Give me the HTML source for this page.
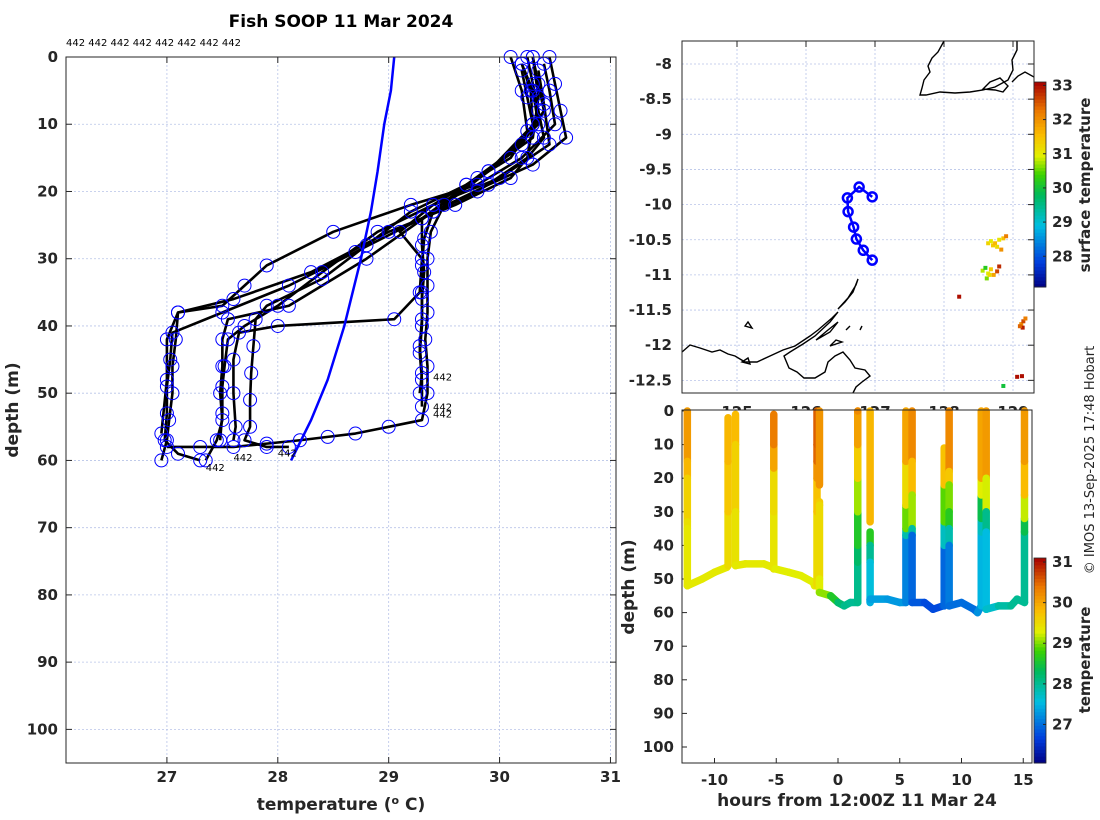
<!DOCTYPE html>
<html><head><meta charset="utf-8"><style>
html,body{margin:0;padding:0;background:#fff;}
svg{display:block;font-family:"DejaVu Sans","Liberation Sans",sans-serif;}
.tk{font-size:15px;font-weight:bold;fill:#262626;}
.lab{font-size:17px;font-weight:bold;fill:#262626;}
</style></head><body>
<svg id="fig" width="1100" height="820" viewBox="0 0 1100 820" xmlns="http://www.w3.org/2000/svg">
<defs><clipPath id="mapclip"><rect x="682" y="41" width="352" height="352"/></clipPath></defs>
<text x="341" y="27" text-anchor="middle" style="font-size:17px;font-weight:bold;fill:#000">Fish SOOP 11 Mar 2024</text>
<text x="66" y="46" style="font-size:10px;fill:#000">442 442 442 442 442 442 442 442</text>
<g id="left"></g>
<g id="map"></g>
<g id="sect"></g>
<text transform="translate(1094,460) rotate(-90)" text-anchor="middle" style="font-size:13px;fill:#262626">© IMOS 13-Sep-2025 17:48 Hobart</text>
</svg>
<script>
const NS="http://www.w3.org/2000/svg";
function mk(parent,tag,attrs,txt){const e=document.createElementNS(NS,tag);for(const k in attrs)e.setAttribute(k,attrs[k]);if(txt!==undefined)e.textContent=txt;parent.appendChild(e);return e;}

// ---------- Left: profiles ----------
const profTickX=[27,28,29,30,31];
const profTickY=[0,10,20,30,40,50,60,70,80,90,100];
const profTemps=[
[30.25,30.3,30.35,30.4,30.1,29.6,29.0,28.3,27.6,27.1,27.08,27.05,27.05,27.02,27.0,26.95],
[30.2,30.28,30.3,30.25,29.8,29.3,28.7,28.1,27.5,27.05,27.03,27.0,27.0,26.98,27.1,27.3],
[30.45,30.5,30.55,30.6,30.3,29.9,29.4,28.8,28.1,27.55,27.5,27.5,27.48,27.5,27.45,27.35],
[30.2,30.25,30.3,30.1,29.7,29.2,28.8,28.4,27.9,27.8,27.78,27.76,27.75,27.75,27.7,27.9,28.1],
[30.3,30.35,30.4,30.2,29.7,29.4,29.32,29.3,29.3,29.3,29.28,29.3,29.28],
[30.2,30.3,30.35,29.9,29.5,29.38,29.35,29.35,29.35,29.33,29.35,29.35,29.3,29.0,28.7,28.45,28.2,27.9,27.6,27.3,27.0],
[30.35,30.4,30.45,30.0,29.4,28.9,28.4,28.0,27.7,27.55,27.52,27.5,27.5,27.48],
[30.1,30.2,30.25,29.9,29.4,29.1,29.3,29.28,29.05,28.0,27.65,27.6,27.6,27.62,27.6],
[30.3,30.35,30.3,29.8,29.3,29.3,29.32,29.3,29.3,29.28,29.3,29.3],
[30.4,30.45,30.5,30.2,29.8,29.2,28.5,27.9,27.7,27.5,27.1,27.0,27.0,26.95]
];
const profDepths=[
[0,4,8,12,18,22,26,32,36,38,42,46,50,54,57,60],
[1,5,10,15,20,24,29,34,38,41,45,49,53,57,59,60],
[0,4,8,12,16,19,23,30,37,39,42,46,50,54,57,60],
[2,6,10,15,19,23,28,33,37,39,43,47,51,55,57,58,58],
[0,4,8,13,19,23,27,31,35,39,43,47,50],
[1,5,10,17,22,26,30,34,38,42,46,50,54,55,56,56.5,57,57.5,58,58,58],
[2,7,13,18,22,26,32,37,40,42,46,49,53,57],
[0,5,11,17,22,26,30,35,39,40,41,45,50,55,57],
[0,6,12,18,24,28,32,36,40,44,48,52],
[1,5,10,15,19,22,26,31,34,37,38,42,48,56]
];
const meanTemps=[29.05,29.02,28.96,28.9,28.84,28.75,28.6,28.45,28.3,28.12];
const meanDepths=[0,5,10,17,23,30,40,48,54,60];
const idLabelT=[29.4,29.4,29.4,27.35,27.6,28.0];
const idLabelD=[47.5,52,53,61,59.5,58.8];

(function(){
 const g=document.getElementById('left');
 const X0=66,X1=616,Y0=57,Y1=763,tmin=26.09,tmax=31.05,dmin=0,dmax=105;
 const sx=t=>X0+(t-tmin)/(tmax-tmin)*(X1-X0);
 const sy=d=>Y0+(d-dmin)/(dmax-dmin)*(Y1-Y0);
 profTickX.forEach(t=>{const l=mk(g,'line',{x1:sx(t),x2:sx(t),y1:Y0,y2:Y1,stroke:'#b8c4e8','stroke-width':0.8,'stroke-dasharray':'2,2'});
  
  const tx=mk(g,'text',{x:sx(t),y:Y1+19,'text-anchor':'middle',class:'tk'},String(t));
  
  mk(g,'line',{x1:sx(t),x2:sx(t),y1:Y0,y2:Y0+6,stroke:'#262626'});mk(g,'line',{x1:sx(t),x2:sx(t),y1:Y1,y2:Y1-6,stroke:'#262626'});});
 profTickY.forEach(d=>{const l=mk(g,'line',{x1:X0,x2:X1,y1:sy(d),y2:sy(d),stroke:'#b8c4e8','stroke-width':0.8,'stroke-dasharray':'2,2'});
  
  const tx=mk(g,'text',{x:X0-8,y:sy(d)+5,'text-anchor':'end',class:'tk'},String(d));
  
  mk(g,'line',{x1:X0,x2:X0+6,y1:sy(d),y2:sy(d),stroke:'#262626'});mk(g,'line',{x1:X1,x2:X1-6,y1:sy(d),y2:sy(d),stroke:'#262626'});});
 profTemps.forEach((ts,i)=>{const pts=ts.map((t,j)=>sx(t)+','+sy(profDepths[i][j])).join(' ');
  const p=mk(g,'polyline',{points:pts,fill:'none',stroke:'#000','stroke-width':2.6,'stroke-linejoin':'round'});
  });
 profTemps.forEach((ts,i)=>{ts.forEach((t,j)=>{const c=mk(g,'circle',{cx:sx(t),cy:sy(profDepths[i][j]),r:6.5,fill:'none',stroke:'#0000ff','stroke-width':1});
  });});
 const m=mk(g,'polyline',{points:meanTemps.map((t,j)=>sx(t)+','+sy(meanDepths[j])).join(' '),fill:'none',stroke:'#0000ff','stroke-width':2.5});
 
 idLabelT.forEach((t,j)=>{const tx=mk(g,'text',{x:sx(t),y:sy(idLabelD[j])+4,style:'font-size:10px;fill:#000'},'442');
  });
 const b=mk(g,'rect',{x:X0,y:Y0,width:X1-X0,height:Y1-Y0,fill:'none',stroke:'#262626','stroke-width':1});
 
 const xl=mk(g,'text',{x:341,y:810,'text-anchor':'middle',class:'lab'});
 xl.innerHTML='temperature (<tspan dy="-6" style="font-size:11px">o</tspan><tspan dy="6"> C)</tspan>';
 
 const yl=mk(g,'text',{transform:'translate(18,410) rotate(-90)','text-anchor':'middle',class:'lab'},'depth (m)');
 
})();

// ---------- colormap ----------
const cmStops=[[0,[0,0,130]],[0.12,[0,60,220]],[0.3,[0,190,225]],[0.45,[0,185,90]],[0.55,[60,210,0]],[0.64,[225,240,0]],[0.74,[250,190,0]],[0.86,[235,120,0]],[1,[165,0,0]]];
function cmap(f){f=Math.max(0,Math.min(1,f));for(let i=1;i<cmStops.length;i++){if(f<=cmStops[i][0]){const a=cmStops[i-1],b=cmStops[i],u=(f-a[0])/(b[0]-a[0]);return 'rgb('+a[1].map((v,k)=>Math.round(v+(b[1][k]-v)*u)).join(',')+')';}}return 'rgb(165,0,0)';}
function colorbar(g,x,y0,y1,vmin,vmax,ticks,name){
 const n=60,h=(y1-y0)/n;
 for(let i=0;i<n;i++){mk(g,'rect',{x:x,y:y1-(i+1)*h,width:12,height:h+0.5,fill:cmap((i+0.5)/n)});}
 const r=mk(g,'rect',{x:x,y:y0,width:12,height:y1-y0,fill:'none',stroke:'#262626','stroke-width':0.8});
 
 ticks.forEach(v=>{const yy=y1-(v-vmin)/(vmax-vmin)*(y1-y0);mk(g,'line',{x1:x+12,x2:x+9,y1:yy,y2:yy,stroke:'#262626'});
  const t=mk(g,'text',{x:x+18,y:yy+5,class:'tk'},String(v));});
}

// ---------- Map ----------
const mapLonTicks=[125,126,127,128,129];
const mapLatTicks=[-8,-8.5,-9,-9.5,-10,-10.5,-11,-11.5,-12,-12.5];
const trackLon=[126.96,126.83,126.73,126.69,126.61,126.60,126.77,126.96];
const trackLat=[-10.79,-10.65,-10.49,-10.32,-10.10,-9.905,-9.75,-9.89];
const sstLon=[128.64,128.68,128.71,128.74,128.77,128.80,128.83,128.86,128.90,128.56,128.60,128.64,128.68,128.72,128.77,128.80,128.62,128.66,128.22,129.12,129.15,129.18,129.14,129.10,129.13,129.06,128.86];
const sstLat=[-10.55,-10.52,-10.58,-10.55,-10.60,-10.50,-10.64,-10.48,-10.45,-10.94,-10.90,-10.98,-10.92,-11.00,-10.95,-10.88,-11.05,-11.00,-11.31,-11.70,-11.66,-11.62,-11.75,-11.73,-12.44,-12.45,-12.58];
const sstVal=[31.3,31.0,31.4,31.6,31.2,31.1,32.0,31.5,32.2,30.8,30.2,31.0,31.4,31.8,32.6,32.8,30.6,31.2,33.0,32.0,32.6,32.2,32.9,32.4,33.0,33.0,30.0];

(function(){
 const g=document.getElementById('map');
 const X0=682,X1=1034,Y0=41,Y1=393;
 const sx=lo=>737+(lo-125)*69;
 const sy=la=>64+(-8-la)*70.3;
 mapLonTicks.forEach(v=>{const l=mk(g,'line',{x1:sx(v),x2:sx(v),y1:Y0,y2:Y1,stroke:'#b8c4e8','stroke-width':0.8,'stroke-dasharray':'2,2'});
  
  mk(g,'line',{x1:sx(v),x2:sx(v),y1:Y0,y2:Y0+6,stroke:'#262626'});
  const t=mk(g,'text',{x:sx(v),y:Y1+24,'text-anchor':'middle',class:'tk'},String(v));});
 mapLatTicks.forEach(v=>{const l=mk(g,'line',{x1:X0,x2:X1,y1:sy(v),y2:sy(v),stroke:'#b8c4e8','stroke-width':0.8,'stroke-dasharray':'2,2'});
  
  mk(g,'line',{x1:X1,x2:X1-6,y1:sy(v),y2:sy(v),stroke:'#262626'});
  const t=mk(g,'text',{x:X0-10,y:sy(v)+5,'text-anchor':'end',class:'tk'},String(v));});
 const cg=mk(g,'g',{'clip-path':'url(#mapclip)'});
 const coast=[
 'M944,41 L938,52 L932,58 L928,66 L930,72 L924,80 L922,88 L920,95 L926,95 L940,92 L955,93 L970,92 L983,90 L995,87 L1008,80 L1013,70 L1012,60 L1017,50 L1017,41',
 'M1034,77 L1025,72 L1018,76 L1012,82',
 'M983,89 L990,82 L1000,78 L1008,86 L1003,92 L995,90 Z',
 'M682,352 L690,345 L700,348 L712,352 L720,350 L728,354 L735,356 L745,362 L757,362 L770,356 L783,350 L795,346 L810,336 L818,330 L832,318 L838,312 L830,322 L815,336 L803,344 L790,352 L784,356 L789,368 L797,372 L804,378 L815,378 L825,372 L828,362 L835,356 L843,352 L850,360 L855,368 L865,370 L870,376 L862,382 L856,387 L853,393',
 'M838,309 L848,298 L856,285 L858,279 L853,292 L845,302 Z',
 'M816,340 L828,330 L838,322 L830,332 Z',
 'M742,362 L748,358 L750,364 Z','M745,326 L748,322 L752,328 Z','M830,346 L836,340 L842,342 Z','M860,330 L862,326 Z','M846,330 L850,326 Z'];
 coast.forEach(d=>{const p=mk(cg,'path',{d:d,fill:'none',stroke:'#000','stroke-width':1.4});});
 sstLon.forEach((lo,i)=>{const r=mk(cg,'rect',{x:sx(lo)-2,y:sy(sstLat[i])-2,width:4,height:4,fill:cmap((sstVal[i]-27.1)/(33.1-27.1))});
  });
 const tp=mk(cg,'polyline',{points:trackLon.map((lo,i)=>sx(lo)+','+sy(trackLat[i])).join(' '),fill:'none',stroke:'#0000ff','stroke-width':2.5});
 
 trackLon.forEach((lo,i)=>{const c=mk(cg,'circle',{cx:sx(lo),cy:sy(trackLat[i]),r:4.5,fill:'none',stroke:'#0000ff','stroke-width':2.5});
  });
 const b=mk(g,'rect',{x:X0,y:Y0,width:X1-X0,height:Y1-Y0,fill:'none',stroke:'#262626','stroke-width':1});
 
 colorbar(g,1034,82,287,27.1,33.1,[28,29,30,31,32,33],'sst-colorbar');
 const cl=mk(g,'text',{transform:'translate(1090,185) rotate(-90)','text-anchor':'middle',class:'lab',style:'font-size:15px'},'surface temperature');
 
})();

// ---------- Section ----------
const secTickX=[-10,-5,0,5,10,15];
const secTickY=[0,10,20,30,40,50,60,70,80,90,100];
const secHours=[
[-12.2,-12.2,-12.2,-12.2,-12.2,-12.2,-11,-10,-9,-8.9,-8.9,-8.9,-8.9],
[-8.3,-8.3,-8.3,-8.3,-8.3,-7.5,-6,-5.3,-5.2,-5.2,-5.2,-5.2,-5.2],
[-5.1,-4,-3,-2,-1.9,-1.7,-1.7,-1.7,-1.7,-1.7,-1.7],
[-1.5,-1.5],
[-1.5,-1.5,-1.5,-1.5,-0.6,0,0.5,1,1.6,1.6,1.6,1.6,1.6,1.6,1.6,1.6],
[2.6,2.6],
[2.6,2.6,2.6,2.6,2.6,4,5,5.5,5.5,5.5,5.5,5.5,5.5],
[6.0,6.0,6.0,6.0,6.0,6.0,7,7.7,8.5,8.6,8.6,8.6,8.6,8.6],
[9.0,9.0,9.0,9.0,9.0,9.0,9.0,10,11,11.3,11.6,11.6,11.6,11.6,11.6,11.6],
[12.0,12.0,12.0,12.0,12.0,12.0,13,14,14.5,15.1,15.1,15.1,15.1,15.1,15.1]
];
const secDepths=[
[0,15,20,33,35,52,50,48,46.5,46,30,15,2],
[1,10,30,46,46,45.5,45.5,46.5,47,30,17,10,1],
[47,48,49,51,52,52,30,20,15,10,0],
[0,22],
[27,28,50,54,55,57,58,57,57,45,40,30,20,10,0,0],
[0,33],
[36,40,45,57,56,56,57,57,37,35,28,15,0],
[0,15,25,35,37,57,57,59,58,58,40,33,22,11],
[0,18,22,30,35,40,58,57,59,60,58,36,32,25,20,0],
[0,20,30,36,59,59,58,58,56,57,36,32,25,15,0]
];
const secTemps=[
[30.2,30.0,29.7,29.5,29.4,29.35,29.35,29.35,29.35,29.4,29.6,29.8,29.9],
[29.9,29.7,29.5,29.35,29.35,29.35,29.35,29.35,29.4,29.4,29.6,30.4,30.3],
[29.3,29.3,29.3,29.3,29.3,29.4,29.6,29.9,30.4,30.6,30.5],
[30.2,30.1],
[29.7,29.6,29.4,29.2,28.9,28.3,28.1,28.0,28.0,28.1,28.4,28.8,29.4,29.9,30.2,30.3],
[30.0,29.7],
[29.0,28.3,27.7,27.5,27.4,27.3,27.3,27.3,27.0,28.7,29.2,29.8,30.2],
[30.3,30.2,29.4,28.8,27.0,26.9,26.8,26.7,26.8,26.9,27.0,28.5,29.3,30.2],
[30.3,30.2,29.2,28.8,28.5,27.2,27.0,27.0,27.0,27.0,27.5,27.5,28.0,28.8,29.8,30.2],
[30.2,30.0,28.5,27.6,27.5,27.6,27.8,28.0,28.0,28.0,28.0,28.8,29.6,30.0,30.2]
];

(function(){
 const g=document.getElementById('sect');
 mk(g,'rect',{x:682,y:410,width:352,height:410,fill:'#fff'});
 const X0=682,X1=1032,Y0=410,Y1=763;
 const sx=h=>838+h*12.35;
 const sy=d=>411+d*3.36;
 const vmin=26.05,vmax=31.1;
 secTickX.forEach(v=>{mk(g,'line',{x1:sx(v),x2:sx(v),y1:Y1,y2:Y1-5,stroke:'#262626'});
  const t=mk(g,'text',{x:sx(v),y:Y1+22,'text-anchor':'middle',class:'tk'},String(v));});
 secTickY.forEach(v=>{mk(g,'line',{x1:X0,x2:X0+5,y1:sy(v),y2:sy(v),stroke:'#262626'});
  const t=mk(g,'text',{x:X0-8,y:sy(v)+5,'text-anchor':'end',class:'tk'},String(v));});
 secHours.forEach((hs,i)=>{for(let j=0;j<hs.length-1;j++){
   const l=mk(g,'line',{x1:sx(hs[j]),y1:sy(secDepths[i][j]),x2:sx(hs[j+1]),y2:sy(secDepths[i][j+1]),stroke:cmap(((secTemps[i][j]+secTemps[i][j+1])/2-vmin)/(vmax-vmin)),'stroke-width':7.5,'stroke-linecap':'round'});
   }});
 const b=mk(g,'rect',{x:X0,y:Y0,width:X1-X0,height:Y1-Y0,fill:'none',stroke:'#262626','stroke-width':1});
 
 colorbar(g,1034,558,763,vmin,vmax,[27,28,29,30,31],'temperature-colorbar');
 const cl=mk(g,'text',{transform:'translate(1090,660) rotate(-90)','text-anchor':'middle',class:'lab',style:'font-size:15px'},'temperature');
 
 const xl=mk(g,'text',{x:857,y:806,'text-anchor':'middle',class:'lab'},'hours from 12:00Z 11 Mar 24');
 
 const yl=mk(g,'text',{transform:'translate(634,587) rotate(-90)','text-anchor':'middle',class:'lab'},'depth (m)');
 
})();
</script>
</body></html>
